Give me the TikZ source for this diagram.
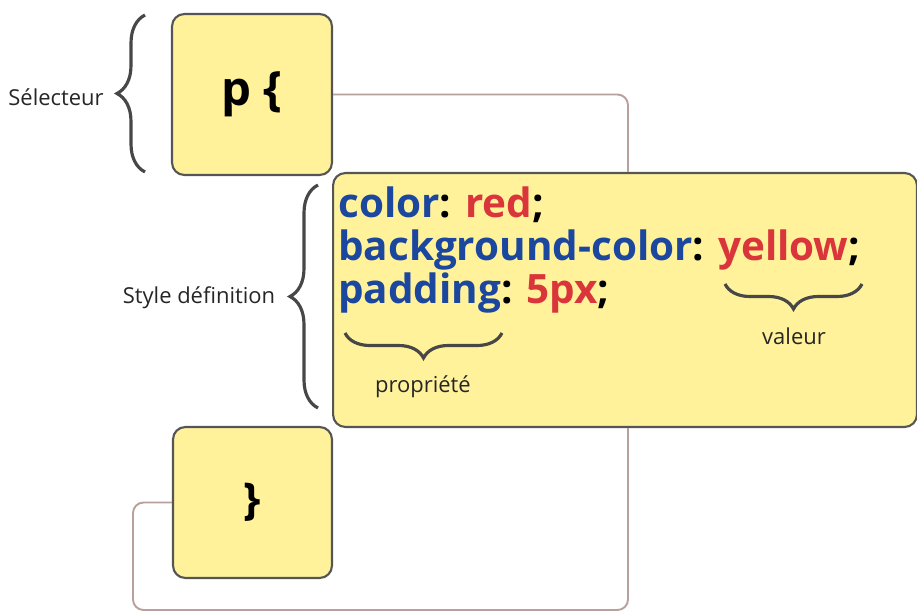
\documentclass[tikz,border=0pt]{standalone}
\usepackage{fontspec}
\setmainfont{Open Sans}
\usetikzlibrary{decorations.pathreplacing}
\definecolor{boxfill}{HTML}{FFF29A}
\definecolor{boxline}{HTML}{555555}
\definecolor{linkcol}{HTML}{B8A19C}
\definecolor{bracecol}{HTML}{474747}
\definecolor{propblue}{HTML}{1B479E}
\definecolor{valred}{HTML}{D9353B}
\tikzset{
	cssbox/.style={draw=boxline, line width=1.2pt, fill=boxfill, rounded corners=7pt, inner sep=0pt},
	link/.style={draw=linkcol, line width=1.1pt, rounded corners=6pt},
	brc/.style={draw=bracecol, line width=1.8pt, decorate, decoration={brace, amplitude=#1}},
	lbl/.style={font=\fontsize{12.5}{15}\selectfont, text=black!85}
}
\newcommand{\prop}[1]{\textcolor{propblue}{#1}}
\newcommand{\val}[1]{\textcolor{valred}{#1}}
\begin{document}
\begin{tikzpicture}[x=0.02cm, y=-0.02cm]
	\useasboundingbox (0,0) rectangle (917,612);
	
	% the three blocks of the rule
	\node[cssbox, minimum width=3.2cm, minimum height=3.22cm, font=\fontsize{27}{32}\selectfont\bfseries] (sel) at (252,94.5) {p \{};
	\node[cssbox, minimum width=11.68cm, minimum height=5.08cm] (defs) at (625,300) {};
	\node[cssbox, minimum width=3.18cm, minimum height=3.02cm, font=\fontsize{25}{30}\selectfont\bfseries] (fin) at (252.5,502.5) {\}};
	
	\node[anchor=north west, inner sep=0pt, align=left, font=\fontsize{23}{24.7}\selectfont\bfseries] (css) at (338,186)
		{\prop{color}: \val{red};\\ \prop{background-color}: \val{yellow};\\ \prop{padding}: \val{5px};};
	
	% connectors
	\coordinate (low) at (133,610);
	\draw[link] (sel.east) -| ([xshift=0.06cm]defs.north);
	\draw[link] ([xshift=0.06cm]defs.south) |- (low) |- (fin.west);
	
	% braces and their labels
	\draw[brc=0.56cm] (145,172) -- (145,15);
	\node[lbl] (selector) at (56,97) {Sélecteur};
	\draw[brc=0.56cm] (318,408) -- (318,185);
	\node[lbl] (styledef) at (199,298) {Style définition};
	\draw[brc=0.5cm] (502,333) -- (345,333);
	\node[lbl] (property) at (423,387) {propriété};
	\draw[brc=0.5cm] (862,284) -- (725,284);
	\node[lbl] (value) at (794,336) {valeur};
\end{tikzpicture}
\end{document}
